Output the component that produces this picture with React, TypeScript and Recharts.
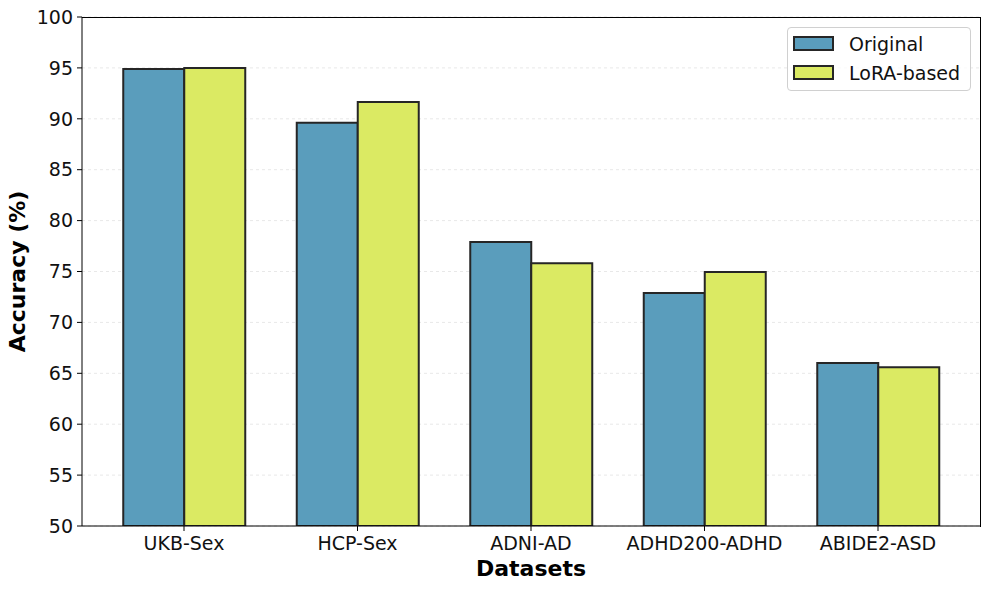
import { Bar, BarChart, CartesianGrid, XAxis, YAxis } from 'recharts'

const datasets = ['UKB-Sex', 'HCP-Sex', 'ADNI-AD', 'ADHD200-ADHD', 'ABIDE2-ASD']
const original = [94.9, 89.6, 77.9, 72.9, 66.0]
const loraBased = [95.0, 91.65, 75.8, 74.95, 65.6]
const yTicks = [50, 55, 60, 65, 70, 75, 80, 85, 90, 95, 100]

const BLUE = '#5a9dbc'
const LIME = '#dbea63'
const EDGE = '#262626'
const FONT = 'DejaVu Sans, sans-serif'

const data = datasets.map((name, i) => ({ name, original: original[i], lora: loraBased[i] }))

function LegendBox() {
  const items = [
    { label: 'Original', color: BLUE },
    { label: 'LoRA-based', color: LIME },
  ]
  return (
    <div
      style={{
        position: 'absolute', left: 787, top: 27, width: 184, height: 64,
        border: '1px solid #d0d0d0', borderRadius: 4, background: 'rgba(255,255,255,0.8)',
        boxSizing: 'border-box', fontFamily: FONT, fontSize: 19, color: '#111',
      }}
    >
      {items.map((it, i) => (
        <div key={it.label}>
          <span
            style={{
              position: 'absolute', left: 5, top: 8 + i * 29, width: 41, height: 15,
              background: it.color, border: `2px solid ${EDGE}`, boxSizing: 'border-box',
            }}
          />
          <span style={{ position: 'absolute', left: 61, top: 5 + i * 29, lineHeight: '22px', whiteSpace: 'nowrap' }}>
            {it.label}
          </span>
        </div>
      ))}
    </div>
  )
}

export default function App() {
  return (
    <div style={{ position: 'absolute', left: 0, top: 0, width: 989, height: 590, background: '#fff' }}>
      <BarChart
        width={989}
        height={590}
        data={data}
        margin={{ top: 17, right: 9, left: 0, bottom: 0 }}
        barGap={0}
        barSize={61}
      >
        <CartesianGrid vertical={false} stroke="#e8e8e8" strokeDasharray="3 3" />
        <XAxis
          dataKey="name"
          height={64}
          padding={{ left: 15.25, right: 15.25 }}
          tickLine={{ stroke: '#000' }}
          axisLine={{ stroke: '#000' }}
          tickSize={5}
          tickMargin={5.5}
          tick={{ fill: '#111', fontSize: 19, fontFamily: FONT }}
          label={{ value: 'Datasets', position: 'insideBottom', offset: 14, fill: '#000', fontSize: 22, fontWeight: 'bold', fontFamily: FONT }}
        />
        <YAxis
          domain={[50, 100]}
          ticks={yTicks}
          allowDataOverflow
          width={82}
          tickLine={{ stroke: '#000' }}
          axisLine={{ stroke: '#000' }}
          tickSize={5}
          tickMargin={4}
          tick={{ fill: '#111', fontSize: 19, fontFamily: FONT }}
          label={{ value: 'Accuracy (%)', angle: -90, position: 'insideLeft', offset: 17, style: { textAnchor: 'middle' }, fill: '#000', fontSize: 22, fontWeight: 'bold', fontFamily: FONT }}
        />
        <Bar dataKey="original" name="Original" fill={BLUE} stroke={EDGE} strokeWidth={2} isAnimationActive={false} />
        <Bar dataKey="lora" name="LoRA-based" fill={LIME} stroke={EDGE} strokeWidth={2} isAnimationActive={false} />
      </BarChart>
      <div
        style={{
          position: 'absolute', left: 82, top: 17, width: 899, height: 510,
          borderTop: '1px solid #000', borderRight: '1px solid #000',
          boxSizing: 'border-box', pointerEvents: 'none',
        }}
      />
      <LegendBox />
    </div>
  )
}
